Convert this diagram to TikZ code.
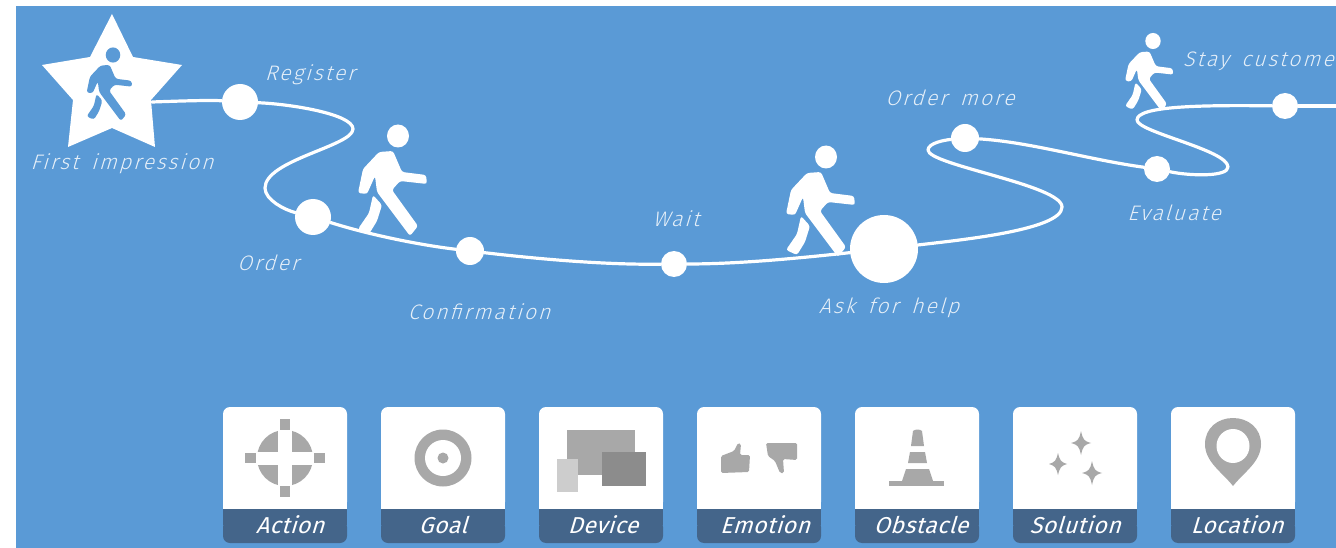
\documentclass[tikz,border=0pt]{standalone}
\usepackage{fontspec}
\newfontfamily\hand{Fira Sans Light}[FakeSlant=0.3,LetterSpace=10,WordSpace=1.6]
\newfontfamily\handb{Fira Sans}[FakeSlant=0.3,LetterSpace=2]
\definecolor{bluebg}{HTML}{5A9AD6}
\definecolor{bandc}{HTML}{44658A}
\definecolor{icon}{HTML}{A8A8A8}
\definecolor{icondk}{HTML}{8C8C8C}
\definecolor{iconlt}{HTML}{CDCDCD}
\tikzset{
  x=1pt,y=-1pt,
  dotnode/.style={circle,fill=white,inner sep=0pt,minimum size=#1},
  trail/.style={draw=white,line width=3.2pt,line cap=round,line join=round},
  lab/.style={text=white,font=\hand\fontsize{21}{24}\selectfont,inner sep=0pt,opacity=.85},
  bandlab/.style={text=white,font=\handb\fontsize{23}{27}\selectfont,inner sep=0pt},
  walker/.pic={
    \fill (0,0) ellipse[x radius=11,y radius=11.5];
    \fill[rounded corners=2.5pt] (-19,16) -- (-5,15) -- (4,36) -- (28,39) -- (29,48) -- (2,45) -- (-6,54) -- (20,90)
      -- (12,100) -- (-21,56) -- (-23,40) -- (-31,58) -- (-40,57) -- (-35,33) -- cycle;
    \fill[rounded corners=2.5pt] (-25,59) -- (-16,69) -- (-21,85) -- (-29,98) -- (-40,93) -- (-29,77) -- cycle;
  }
}
\newcommand{\cardbox}[4]{%
  \fill[white,rounded corners=7pt] (#1,407) -- (#1+124,407) -- (#1+124,509) -- (#1,509) -- cycle;
  \fill[white] (#1,490) rectangle (#1+124,509);
  \fill[bandc,rounded corners=7pt] (#1,520) -- (#1,543) -- (#1+124,543) -- (#1+124,520) -- cycle;
  \fill[bandc] (#1,509) rectangle (#1+124,525);
  \node[bandlab] (#3) at (#4,525) {#2};
}
\newcommand{\sparkle}[4]{%
  \fill[icon] (#1,#2-#4) .. controls (#1+2,#2-3) and (#1+3,#2-2) .. (#1+#3,#2)
    .. controls (#1+3,#2+2) and (#1+2,#2+3) .. (#1,#2+#4)
    .. controls (#1-2,#2+3) and (#1-3,#2+2) .. (#1-#3,#2)
    .. controls (#1-3,#2-2) and (#1-2,#2-3) .. (#1,#2-#4) -- cycle;
}
\begin{document}
\begin{tikzpicture}
\useasboundingbox (0,0) rectangle (1336,548);
\fill[white] (0,0) rectangle (1336,548);
\fill[bluebg] (16,6) rectangle (1336,548);

% star
\fill[white] (112,14) -- (133,57) -- (182,65) -- (151,100) -- (155,147) -- (112,128) -- (68,147) -- (73,100) -- (42,65) -- (90,57) -- cycle;
\pic[bluebg,fill=bluebg,draw=none,scale=.66] at (113,55) {walker};
\coordinate (startpt) at (152,102);
\coordinate (endpt) at (1336,106);

% stops
\node[dotnode=36pt] (register) at (240,102) {};
\node[dotnode=36pt] (order) at (313,217) {};
\node[dotnode=28pt] (confirm) at (470,251) {};
\node[dotnode=26pt] (wait) at (674,264) {};
\node[dotnode=68pt] (ask) at (884,249) {};
\node[dotnode=28pt] (more) at (965,138) {};
\node[dotnode=26pt] (evaluate) at (1157,169) {};
\node[dotnode=26pt] (stay) at (1285,106) {};

% trail
\draw[trail] (startpt) .. controls (180,101) and (210,100) .. (register);
\draw[trail] (register) .. controls (290,104) and (353,114) .. (353,129)
  .. controls (353,146) and (265,160) .. (265,188)
  .. controls (265,200) and (285,210) .. (order);
\draw[trail] (order) .. controls (370,235) and (420,245) .. (confirm);
\draw[trail] (confirm) .. controls (530,258) and (600,265) .. (wait);
\draw[trail] (wait) .. controls (740,264) and (800,258) .. (ask);
\draw[trail] (ask) .. controls (960,240) and (1062,230) .. (1062,207)
  .. controls (1062,185) and (928,165) .. (928,150)
  .. controls (928,143) and (945,140) .. (more);
\draw[trail] (more) .. controls (1030,142) and (1090,160) .. (evaluate);
\draw[trail] (evaluate) .. controls (1190,176) and (1228,177) .. (1228,167)
  .. controls (1228,150) and (1137,132) .. (1137,120)
  .. controls (1137,106) and (1200,105) .. (stay);
\draw[trail] (stay) -- (endpt);

% walkers
\pic[fill=white,draw=none] at (398,136) {walker};
\pic[fill=white,draw=none] at (826,157) {walker};
\pic[fill=white,draw=none,scale=.7] at (1153,41) {walker};

% labels
\node[lab] (l1) at (122,164) {First impression};
\node[lab] (l2) at (310,75) {Register};
\node[lab] (l3) at (268,263) {Order};
\node[lab] (l4) at (479,312) {Confirmation};
\node[lab] (l5) at (676,219) {Wait};
\node[lab] (l6) at (889,308) {Ask for help};
\node[lab] (l7) at (950,98) {Order more};
\node[lab] (l8) at (1174,213) {Evaluate};
\node[lab,anchor=west] (l9) at (1183,61) {Stay custome};

% cards
\cardbox{223}{Action}{c1}{290}
\cardbox{381}{Goal}{c2}{443}
\cardbox{539}{Device}{c3}{603}
\cardbox{697}{Emotion}{c4}{765}
\cardbox{855}{Obstacle}{c5}{921}
\cardbox{1013}{Solution}{c6}{1075}
\cardbox{1171}{Location}{c7}{1237}

% action icon
\fill[icon] (285,458) circle[radius=28];
\fill[white] (278,425) rectangle (292,491);
\fill[white] (252,452) rectangle (318,465);
\fill[icon] (280,419) rectangle (290,430);
\fill[icon] (280,486) rectangle (290,497);
\fill[icon] (245,453) rectangle (256,463);
\fill[icon] (314,453) rectangle (325,463);
% goal icon
\fill[icon] (443,458) circle[radius=28.5];
\fill[white] (443,458) circle[radius=18];
\fill[icon] (443,458) circle[radius=5.5];
% device icon
\fill[icon] (567,430) rectangle (635,475);
\fill[white] (578,475) rectangle (602,480);
\fill[icondk] (602,452) rectangle (646,486);
\fill[iconlt] (557,459) rectangle (578,492);
% emotion icon
\fill[icon,rounded corners=1.5pt] (721,456) -- (734,451) -- (738,443) -- (741,444) -- (740,455) -- (750,455) -- (749,472) -- (721,473) -- cycle;
\fill[icon,rounded corners=1.5pt] (766,443) -- (797,443) -- (797,460) -- (783,459) -- (784,473) -- (780,473) -- (775,461) -- (768,456) -- cycle;
% obstacle icon
\fill[icon] (889,481) rectangle (944,486);
\fill[icon] (902,481) -- (906,469) -- (929,469) -- (933,481) -- cycle;
\fill[icon] (908,463) -- (910,452) -- (925,452) -- (927,463) -- cycle;
\fill[icon] (911,446) -- (913,431) .. controls (915,429) and (920,429) .. (922,431) -- (924,446) -- cycle;
% solution icon
\sparkle{1081}{443}{10}{12}
\sparkle{1058}{464}{9}{11}
\sparkle{1092}{473}{10}{12}
% location icon
\fill[icon] (1233,486) .. controls (1222,472) and (1205,462) .. (1205,444)
  .. controls (1205,428) and (1218,418) .. (1233,418)
  .. controls (1248,418) and (1261,428) .. (1261,444)
  .. controls (1261,462) and (1244,472) .. (1233,486) -- cycle;
\fill[white] (1233,446) ellipse[x radius=16.5,y radius=17];
\end{tikzpicture}
\end{document}
